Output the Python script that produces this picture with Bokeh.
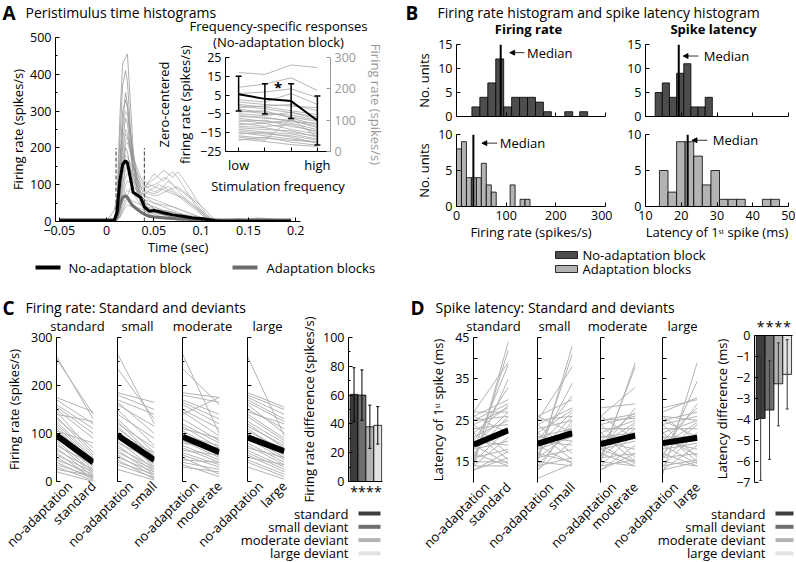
import math
from bokeh.plotting import figure
from bokeh.layouts import column
from bokeh.models import (ColumnDataSource, FixedTicker, Range1d, LinearAxis,
                          Whisker, TeeHead, Arrow, NormalHead)
from bokeh.core.properties import value
from bokeh.embed import file_html
from bokeh.resources import INLINE

FONT = "Open Sans"
TICK = "12.5px"
LAB = "13px"

# ---------------- DATA ----------------
# Panel A: PSTHs
psth_t = [-0.05, 0.0, 0.008, 0.011, 0.014, 0.017, 0.02, 0.022, 0.025, 0.028, 0.032, 0.036,
          0.04, 0.045, 0.05, 0.055, 0.06, 0.065, 0.07, 0.075, 0.08, 0.085, 0.09, 0.095,
          0.1, 0.105, 0.11, 0.115, 0.12, 0.14, 0.16, 0.195]
psth_units = [
    [5,4,6,50,280,430,445,455,330,200,110,60,35,25,20,15,12,10,8,8,6,5,5,4,4,3,3,3,3,4,3,4],
    [3,3,5,35,220,370,410,380,260,150,90,50,30,20,15,12,10,8,6,5,5,4,3,3,3,3,2,2,2,3,2,3],
    [2,2,4,25,160,300,330,310,220,160,100,70,60,45,35,25,20,15,12,10,8,6,5,4,3,3,2,2,2,2,2,2],
    [4,3,5,20,120,250,300,290,240,180,140,95,70,85,90,100,95,85,80,70,60,50,40,30,20,10,5,3,3,3,3,3],
    [1,1,3,15,100,220,280,270,200,130,90,60,40,30,25,20,18,15,12,10,8,6,5,4,3,2,2,2,2,2,2,2],
    [3,3,6,20,90,180,250,240,200,150,120,100,90,110,130,120,110,125,135,120,100,80,60,40,20,8,4,3,3,3,3,3],
    [2,2,4,10,60,150,220,230,200,170,150,120,100,90,80,85,95,110,100,90,80,70,60,50,30,15,5,3,2,2,2,2],
    [0,0,2,8,50,130,200,190,150,110,80,60,50,45,40,35,30,28,25,20,18,15,12,10,8,6,4,3,2,2,2,2],
    [3,3,5,12,60,120,180,175,160,140,130,120,110,100,95,90,85,80,75,70,65,55,45,35,25,12,5,3,3,3,3,3],
    [1,1,2,6,30,90,160,150,140,120,100,80,70,60,50,45,40,35,30,25,20,15,10,8,5,3,2,1,1,1,1,1],
    [2,2,3,8,40,100,140,150,145,130,115,100,90,95,100,105,120,115,100,85,70,60,50,40,30,20,10,5,3,2,8,2],
    [0,0,1,5,30,80,120,130,120,110,100,95,85,80,75,80,90,95,85,75,65,55,45,35,25,15,8,3,2,1,1,1],
    [2,2,3,6,25,60,100,110,105,95,85,80,70,65,60,55,50,45,40,35,30,25,20,15,10,6,3,2,2,2,2,2],
    [1,1,2,4,20,50,80,85,80,75,70,65,60,55,50,48,45,42,40,35,30,25,20,15,10,5,2,1,1,8,1,1],
    [3,3,3,5,15,40,60,65,60,55,50,45,40,38,35,32,30,28,25,22,20,18,15,12,10,8,5,3,3,3,10,3],
    [0,0,1,3,10,25,40,45,42,40,38,35,30,28,25,22,20,18,16,14,12,10,8,6,5,4,3,2,1,1,1,1],
    [2,2,2,4,12,30,50,70,90,80,60,45,35,30,28,26,24,22,20,18,16,14,12,10,8,6,4,2,2,2,2,2],
    [1,1,30,60,150,260,350,320,250,180,120,80,50,35,28,22,18,15,12,10,8,7,6,5,4,3,2,2,2,2,2,2],
    [4,4,5,20,110,200,240,230,190,150,130,110,95,105,115,125,140,130,120,135,120,100,80,60,40,20,8,4,4,4,4,4],
    [2,2,3,10,70,160,210,215,190,160,120,90,80,75,70,72,78,85,90,95,85,75,65,55,42,30,15,6,3,2,2,2],
]
psth_noadapt_mean = [2,2,2,25,110,155,165,160,120,80,72,65,40,28,30,27,24,21,18,16,14,12,10,9,8,6,4,2,1,1,1,1]
psth_adapt_mean = [5,5,5,12,45,65,70,66,52,42,34,26,20,14,12,11,10,9,8,7,6,6,5,5,5,4,4,4,4,4,4,4]
window_start, window_end, window_top = 0.01, 0.04, 200
psth_xticks = [-0.05, 0, 0.05, 0.1, 0.15, 0.2]
psth_xlabels = ["\u22120.05", "0", "0.05", "0.1", "0.15", "0.2"]
psth_yticks = [0, 100, 200, 300, 400, 500]

# Panel A inset: frequency-specific responses
inset_freq = [1, 2, 3, 4]
inset_freq_labels = ["low", "", "", "high"]
inset_units = [
    [252,246,276,268],[205,215,235,195],[185,190,200,172],[165,158,185,150],
    [158,150,145,140],[150,142,130,118],[146,136,124,104],[140,145,150,130],
    [135,125,110,96],[130,121,116,100],[126,130,106,86],[121,114,125,110],
    [116,106,100,80],[111,110,95,90],[106,96,90,70],[101,90,100,76],
    [96,100,80,66],[91,80,86,60],[86,90,70,56],[81,76,60,50],[76,70,66,46],
    [71,62,56,40],[66,56,50,36],[61,50,40,30],[56,60,46,26],[50,42,36,30],
    [46,36,105,46],[40,32,22,16],[36,46,30,20]]
inset_mean = [5.5, 3.0, 1.8, -8.5]
inset_lo = [-3.5, -5.0, -7.5, -21.5]
inset_hi = [15.0, 11.0, 11.0, 4.5]
inset_yticks = [-25, -15, -5, 5, 15, 25]
inset_ylabels = ["\u221225", "\u221215", "\u22125", "5", "15", "25"]
inset_rticks = [0, 100, 200, 300]
inset_sig_x, inset_sig_y = 2.5, 9.5

# Panel B: histograms
fr_noadapt_left = [31, 47, 63, 79, 95, 111, 127, 143, 159, 175, 218, 248]
fr_noadapt_count = [2, 4, 7, 12, 2, 4, 4, 4, 3, 1, 1, 1]
fr_noadapt_width = 16
fr_noadapt_median = 89
fr_adapt_left = [0, 10, 20, 30, 40, 50, 60, 70, 108, 128, 138]
fr_adapt_count = [8, 9, 4, 4, 4, 6, 3, 2, 3, 1, 1]
fr_adapt_width = 10
fr_adapt_median = 34
lat_noadapt_left = [12.7, 14.7, 16.7, 18.7, 20.7, 22.7, 24.7, 26.7]
lat_noadapt_count = [5, 7, 4, 9, 11, 2, 2, 4]
lat_noadapt_width = 2.0
lat_noadapt_median = 19.3
lat_adapt_left = [13.9, 16.3, 18.7, 21.1, 23.5, 25.9, 28.3, 30.7, 33.1, 35.5, 42.7, 45.1]
lat_adapt_count = [5, 2, 9, 9, 7, 3, 5, 1, 1, 1, 1, 1]
lat_adapt_width = 2.4
lat_adapt_median = 21.8

# Panel C: firing rate, no-adaptation vs. condition
conditions = ["standard", "small", "moderate", "large"]
legend_names = ["standard", "small deviant", "moderate deviant", "large deviant"]
bar_colors = ["#3d3d3d", "#6e6e6e", "#b3b3b3", "#e3e3e3"]
fr_noadapt = {
    "standard": [260,255,175,170,160,155,150,145,140,135,130,125,120,115,110,105,100,95,90,85,80,75,70,65,60,55,50,45,40,35,30,25,20],
    "small":    [265,235,185,180,170,165,160,150,140,130,125,120,115,110,105,100,95,90,85,80,75,70,65,60,55,50,45,40,35,25],
    "moderate": [265,235,185,180,170,165,160,150,145,140,130,120,115,110,105,100,95,90,85,80,75,70,65,60,55,50,45,40,35,30],
    "large":    [260,185,180,175,170,165,160,150,145,140,135,125,120,115,110,105,100,95,90,85,80,75,70,65,60,55,50,45,40,30],
}
fr_cond = {
    "standard": [130,140,145,120,110,100,90,60,125,55,70,50,45,40,35,80,30,25,45,20,15,35,10,25,5,20,8,15,5,10,2,12,0],
    "small":    [120,130,165,150,140,100,115,75,90,60,50,70,45,55,40,30,60,35,25,45,20,30,15,25,10,20,5,15,8,3],
    "moderate": [100,160,175,165,140,130,120,110,95,175,85,80,70,90,65,60,75,55,50,70,45,40,55,35,30,15,40,25,10,20],
    "large":    [95,155,150,140,130,125,100,110,120,90,85,80,70,75,60,65,55,50,45,60,40,35,50,30,25,20,35,15,10,5],
}
fr_mean_pairs = {"standard": (96, 40), "small": (96, 45), "moderate": (93, 61), "large": (92, 63)}
fr_diff_mean = [60.5, 60.0, 38.0, 39.0]
fr_diff_lo = [41.5, 42.5, 23.0, 26.0]
fr_diff_hi = [79.0, 77.5, 53.0, 52.0]

# Panel D: spike latency, no-adaptation vs. condition
lat_noadapt = {
    "standard": [14,15,27,18,16,20,26,25,22,24,19,17,21,23,15,26,14,18,20,16,24,13,22,15,19,14,17,25,27,13],
    "small":    [15,16,25,18,20,26,24,22,19,17,23,14,21,26,18,13,20,16,24,14,22,11,19,15,17,25,13,21,16,19],
    "moderate": [15,16,26,28,18,20,25,24,22,19,17,23,14,21,26,18,13,20,16,24,14,22,19,15,17,25,13,21,16,18],
    "large":    [12,16,27,28,18,20,25,24,22,19,17,23,14,21,26,18,13,20,16,24,14,22,19,15,17,25,13,21,16,26],
}
lat_cond = {
    "standard": [44,42,39,38.5,35,33,30,29,28.5,28,27,26,25,24,23,22,21,20,19,18,17,16,15.5,15,14.5,14,14,26,27,17.5],
    "small":    [43,41,38,34,31,30,28,27.5,27,26,25,24,23,22,21,20,19,18,17,16,15.5,14.5,14.5,14,15,26,25,20,22,23],
    "moderate": [39,38,33,29,28,27,26.5,26,25,24.5,24,23,22,21,20.5,20,19,18,17,16,15.5,15,14.5,14,14,25.5,17,22,23,15],
    "large":    [39,34.5,30.5,30,29,28,27,26,25,24.5,24,23,22,21,20,19.5,19,18,17,16,15.5,15,14.5,14,14,21,15,16.5,22,25],
}
lat_mean_pairs = {"standard": (19.1, 22.6), "small": (19.4, 21.9), "moderate": (19.3, 21.3), "large": (19.5, 20.8)}
lat_diff_mean = [-3.95, -3.55, -2.3, -1.85]
lat_diff_lo = [-6.9, -5.9, -4.3, -3.5]
lat_diff_hi = [-1.0, -1.2, -0.35, -0.2]
sig_marks = ["*", "*", "*", "*"]

# ---------------- HELPERS ----------------
PAGE_W, PAGE_H = 796, 562
OFF_X, OFF_Y = 0, 0   # where the positioning container sits in the window


def place(p, left, top):
    # absolute position in window pixels
    p.styles = {"position": "absolute", "left": "%dpx" % (left - OFF_X),
                "top": "%dpx" % (top - OFF_Y)}


def make_fig(fl, ft, fw, fh, xr, yr, bl=40, br=10, bt=10, bb=40, **kw):
    W = fw + bl + br
    H = fh + bt + bb
    p = figure(width=W, height=H, x_range=Range1d(*xr), y_range=Range1d(*yr),
               output_backend="svg", toolbar_location=None,
               min_border_left=bl, min_border_right=br, min_border_top=bt,
               min_border_bottom=bb, **kw)
    p.frame_align = False
    p.background_fill_color = None
    p.border_fill_color = None
    p.outline_line_color = None
    p.xgrid.visible = False
    p.ygrid.visible = False
    place(p, fl - bl, ft - bt)
    return p


def style_axis(ax, color="black"):
    ax.axis_line_color = color
    ax.axis_line_width = 1
    ax.major_tick_in = 4
    ax.major_tick_out = 0
    ax.minor_tick_in = 2
    ax.minor_tick_out = 0
    ax.major_tick_line_color = color
    ax.minor_tick_line_color = color
    ax.major_label_text_font = FONT
    ax.major_label_text_font_size = TICK
    ax.major_label_text_color = color
    ax.axis_label_text_font = FONT
    ax.axis_label_text_font_size = LAB
    ax.axis_label_text_font_style = "normal"
    ax.axis_label_text_color = color
    ax.major_label_standoff = 4
    ax.axis_label_standoff = 2


def style_all(p):
    for ax in list(p.xaxis) + list(p.yaxis):
        style_axis(ax)


figs = []

# overlay for titles / legends (whole window, drawn underneath)
ov = figure(width=PAGE_W, height=PAGE_H, x_range=Range1d(0, PAGE_W), y_range=Range1d(0, PAGE_H),
            output_backend="svg", toolbar_location=None, min_border=0,
            x_axis_type=None, y_axis_type=None)
ov.frame_align = False
ov.background_fill_color = None
ov.border_fill_color = None
ov.outline_line_color = None
ov.xgrid.visible = False
ov.ygrid.visible = False
place(ov, 0, 0)
figs.append(ov)


def txt(x, y, s, size=LAB, style="normal", align="left", color="black", angle=0.0):
    ov.text(x=[x], y=[PAGE_H - y], text=[s], text_font=value(FONT), text_font_size=size,
            text_font_style=style, text_align=align, text_baseline="middle",
            text_color=color, angle=angle)


def hseg(x0, x1, y, color, width):
    ov.segment(x0=[x0], y0=[PAGE_H - y], x1=[x1], y1=[PAGE_H - y], line_color=color,
               line_width=width)


# ---------------- PANEL A ----------------
pA = make_fig(52, 37, 248, 184, (-0.054, 0.205), (0, 500), bl=46, br=4, bt=6, bb=40)
dark_units = {0, 1, 2, 4, 7, 17}
pA.multi_line(xs=[psth_t for i in range(len(psth_units)) if i not in dark_units],
              ys=[u for i, u in enumerate(psth_units) if i not in dark_units],
              line_color="#a8a8a8", line_width=0.7)
pA.multi_line(xs=[psth_t for i in range(len(psth_units)) if i in dark_units],
              ys=[u for i, u in enumerate(psth_units) if i in dark_units],
              line_color="#8a8a8a", line_width=0.7)
pA.segment(x0=[window_start, window_end], y0=[0, 0], x1=[window_start, window_end],
           y1=[window_top, window_top], line_color="#555555", line_width=1.2, line_dash="4 2")
pA.line(psth_t, psth_adapt_mean, line_color="#6e6e6e", line_width=3)
pA.line(psth_t, psth_noadapt_mean, line_color="black", line_width=3)
style_all(pA)
pA.xaxis.ticker = FixedTicker(ticks=psth_xticks)
pA.xaxis.major_label_overrides = dict(zip(psth_xticks, psth_xlabels))
pA.yaxis.ticker = FixedTicker(ticks=psth_yticks, minor_ticks=[50, 150, 250, 350, 450])
pA.xaxis.axis_label = "Time (sec)"
pA.yaxis.axis_label = "Firing rate (spikes/s)"
pA.xaxis.axis_label_standoff = 0
pA.yaxis.axis_label_standoff = 0
figs.append(pA)

# inset
pI = make_fig(225, 57, 106, 94, (0.5, 4.5), (-25, 25), bl=30, br=56, bt=40, bb=50)
pI.extra_y_ranges = {"fr": Range1d(0, 300)}
pI.multi_line(xs=[inset_freq] * len(inset_units), ys=inset_units, y_range_name="fr",
              line_color="#a6a6a6", line_width=0.8)
src_in = ColumnDataSource(dict(x=inset_freq, m=inset_mean, lo=inset_lo, hi=inset_hi))
pI.line("x", "m", source=src_in, line_color="black", line_width=2)
pI.add_layout(Whisker(base="x", lower="lo", upper="hi", source=src_in, level="annotation",
                      line_color="black", line_width=1.5,
                      upper_head=TeeHead(size=6, line_width=1.5, line_color="black"),
                      lower_head=TeeHead(size=6, line_width=1.5, line_color="black")))
pI.text(x=[inset_sig_x], y=[inset_sig_y], text=["*"], text_font=value(FONT),
        text_font_size="15px", text_font_style="bold", text_align="center",
        text_baseline="middle")
rax = LinearAxis(y_range_name="fr")
pI.add_layout(rax, "right")
style_all(pI)
style_axis(rax, color="#9a9a9a")
pI.yaxis[0].ticker = FixedTicker(ticks=inset_yticks)
pI.yaxis[0].major_label_overrides = dict(zip(inset_yticks, inset_ylabels))
rax.ticker = FixedTicker(ticks=inset_rticks)
rax.axis_label = "Firing rate (spikes/s)"
rax.axis_label_standoff = 8
pI.xaxis.ticker = FixedTicker(ticks=inset_freq)
pI.xaxis.major_label_overrides = dict(zip(inset_freq, inset_freq_labels))
pI.xaxis.major_label_text_font_size = LAB
pI.xaxis.axis_label = "Stimulation frequency"
pI.xaxis.axis_label_standoff = 0
figs.append(pI)


# ---------------- PANEL B ----------------
def hist_panel(fl, ft, fw, fh, xr, yr, lefts, counts, width, median, color, xticks, yticks,
               show_x, xlabel, ylabel, arrow_tail, arrow_tip, arrow_y, text_x):
    p = make_fig(fl, ft, fw, fh, xr, yr, bl=40, br=7, bt=6, bb=40)
    src = ColumnDataSource(dict(left=lefts, right=[l + width for l in lefts], top=counts))
    p.quad(left="left", right="right", top="top", bottom=0, source=src, fill_color=color,
           line_color="black", line_width=0.8)
    p.segment(x0=[median], y0=[yr[0]], x1=[median], y1=[yr[1]], line_color="black",
              line_width=2)
    p.add_layout(Arrow(end=NormalHead(size=5, fill_color="black", line_color="black",
                                      line_width=0.8),
                       x_start=arrow_tail, y_start=arrow_y, x_end=arrow_tip, y_end=arrow_y,
                       line_width=0.8, line_color="black"))
    p.text(x=[text_x], y=[arrow_y], text=["Median"], text_font=value(FONT),
           text_font_size=LAB, text_baseline="middle", text_align="left")
    style_all(p)
    p.xaxis.ticker = FixedTicker(ticks=xticks)
    if not show_x:
        p.xaxis.major_label_overrides = {t: "" for t in xticks}
    else:
        p.xaxis.axis_label = xlabel
        p.xaxis.axis_label_standoff = 0
    p.yaxis.ticker = FixedTicker(ticks=yticks)
    if ylabel:
        p.yaxis.axis_label = ylabel
    p.yaxis.axis_label_standoff = 2
    return p


DARK, LIGHT = "#4d4d4d", "#b3b3b3"
figs.append(hist_panel(452, 44, 153, 72, (0, 300), (0, 15), fr_noadapt_left, fr_noadapt_count,
                       fr_noadapt_width, fr_noadapt_median, DARK, [0, 100, 200, 300],
                       [0, 5, 10, 15], False, None, "No. units", fr_noadapt_median + 48,
                       fr_noadapt_median + 18, 13.3, fr_noadapt_median + 53))
figs.append(hist_panel(452, 134, 153, 72, (0, 300), (0, 10), fr_adapt_left, fr_adapt_count,
                       fr_adapt_width, fr_adapt_median, LIGHT, [0, 100, 200, 300],
                       [0, 5, 10], True, "Firing rate (spikes/s)", "No. units",
                       fr_adapt_median + 48, fr_adapt_median + 17, 8.8, fr_adapt_median + 53))
figs.append(hist_panel(645, 44, 143, 72, (10, 50), (0, 15), lat_noadapt_left,
                       lat_noadapt_count, lat_noadapt_width, lat_noadapt_median, DARK,
                       [10, 20, 30, 40, 50], [0, 5, 10, 15], False, None, None,
                       lat_noadapt_median + 5.5, lat_noadapt_median + 1.2, 12.6,
                       lat_noadapt_median + 7.0))
figs.append(hist_panel(645, 134, 143, 72, (10, 50), (0, 10), lat_adapt_left, lat_adapt_count,
                       lat_adapt_width, lat_adapt_median, LIGHT, [10, 20, 30, 40, 50],
                       [0, 5, 10], True, "Latency of 1\u02e2\u1d57 spike (ms)", None,
                       lat_adapt_median + 5.5, lat_adapt_median + 1.2, 9.2,
                       lat_adapt_median + 7.0))


# ---------------- PANELS C & D: paired lines ----------------
def paired_panel(fl, ft, fw, fh, yr, left_vals, right_vals, mean_pair, cond, yticks, ylabmap,
                 minor, ylabel=None):
    p = make_fig(fl, ft, fw, fh, (0.995, 2.005), yr, bl=54, br=10, bt=6, bb=80)
    p.multi_line(xs=[[1, 2]] * len(left_vals),
                 ys=[[a, b] for a, b in zip(left_vals, right_vals)],
                 line_color="#b3b3b3", line_width=1)
    p.line(x=[1, 2], y=list(mean_pair), line_color="black", line_width=6)
    style_all(p)
    p.yaxis.ticker = FixedTicker(ticks=yticks, minor_ticks=minor)
    p.yaxis.major_label_overrides = ylabmap
    if ylabel:
        p.yaxis.axis_label = ylabel
        p.yaxis.axis_label_standoff = 5
    xa = p.xaxis[0]
    xa.ticker = FixedTicker(ticks=[1, 2])
    xa.major_label_overrides = {1: "no-adaptation", 2: cond}
    xa.major_label_orientation = math.pi / 4
    xa.axis_line_color = None
    xa.major_tick_line_color = None
    xa.minor_tick_line_color = None
    xa.major_label_text_font_size = LAB
    xa.major_label_standoff = 2
    return p


c_lefts = [56, 117, 182, 247]
for i, cond in enumerate(conditions):
    labmap = {t: (str(t) if i == 0 else "") for t in [0, 100, 200, 300]}
    figs.append(paired_panel(c_lefts[i], 337, 37, 144, (0, 300), fr_noadapt[cond],
                             fr_cond[cond], fr_mean_pairs[cond], cond, [0, 100, 200, 300],
                             labmap, [50, 150, 250],
                             "Firing rate (spikes/s)" if i == 0 else None))

d_lefts = [473, 537, 600, 662]
d_ticks = [15, 20, 25, 30, 35, 40, 45]
for i, cond in enumerate(conditions):
    labmap = {t: (str(t) if (i == 0 and t in (15, 25, 35, 45)) else "") for t in d_ticks}
    figs.append(paired_panel(d_lefts[i], 337, 35, 145, (10, 45), lat_noadapt[cond],
                             lat_cond[cond], lat_mean_pairs[cond], cond, d_ticks, labmap, [],
                             "Latency of 1\u02e2\u1d57 spike (ms)" if i == 0 else None))


# ---------------- difference bars ----------------
def diff_bars(fl, ft, fw, fh, yr, means, lo, hi, yticks, ylabmap, minor, ylabel, side,
              wcolor):
    p = make_fig(fl, ft, fw, fh, (0.3, 4.6), yr, bl=50, br=4 if side == "above" else 10,
                 bt=22, bb=22, x_axis_location=side)
    src = ColumnDataSource(dict(x=[1, 2, 3, 4], top=means, lo=lo, hi=hi, color=bar_colors))
    p.vbar(x="x", top="top", bottom=0, width=1, fill_color="color", line_color="black",
           line_width=0.8, source=src)
    p.add_layout(Whisker(base="x", lower="lo", upper="hi", source=src, level="annotation",
                         line_color=wcolor, line_width=1,
                         upper_head=TeeHead(size=3, line_width=1, line_color=wcolor),
                         lower_head=TeeHead(size=3, line_width=1, line_color=wcolor)))
    style_all(p)
    p.yaxis.ticker = FixedTicker(ticks=yticks, minor_ticks=minor)
    p.yaxis.major_label_overrides = ylabmap
    p.yaxis.axis_label = ylabel
    p.yaxis.axis_label_standoff = 2
    xa = p.xaxis[0]
    xa.ticker = FixedTicker(ticks=[1, 2, 3, 4])
    xa.major_label_overrides = dict(zip([1, 2, 3, 4], sig_marks))
    xa.major_tick_line_color = None
    xa.major_label_text_font_size = "14px"
    xa.major_label_standoff = 0
    return p


figs.append(diff_bars(347, 337, 35, 144, (0, 100), fr_diff_mean, fr_diff_lo, fr_diff_hi,
                      [0, 20, 40, 60, 80, 100], {t: str(t) for t in [0, 20, 40, 60, 80, 100]},
                      [10, 30, 50, 70, 90], "Firing rate difference (spikes/s)", "below",
                      "black"))
d_bar_ticks = [-7, -6, -5, -4, -3, -2, -1, 0]
figs.append(diff_bars(754, 335, 38, 147, (-7, 0), lat_diff_mean, lat_diff_lo, lat_diff_hi,
                      d_bar_ticks, {t: ("\u2212%d" % -t if t < 0 else "0") for t in d_bar_ticks},
                      [], "Latency difference (ms)", "above", "#333333"))

# ---------------- overlay texts ----------------
txt(2, 12, "A", size="19px", style="bold")
txt(25, 12, "Peristimulus time histograms", size="14px")
txt(278, 25, "Frequency-specific responses", align="center")
txt(278, 41, "(No-adaptation block)", align="center")
txt(174, 104, "Zero-centered\nfiring rate (spikes/s)", align="center", angle=math.pi / 2)
hseg(35, 60, 267, "black", 4)
txt(68, 267, "No-adaptation block")
hseg(232, 257, 267, "#6e6e6e", 4)
txt(266, 267, "Adaptation blocks")

txt(405, 12, "B", size="19px", style="bold")
txt(437, 12, "Firing rate histogram and spike latency histogram", size="14px")
txt(528, 28, "Firing rate", style="bold", align="center")
txt(713, 28, "Spike latency", style="bold", align="center")
ov.quad(left=[555, 555], right=[577, 577], bottom=[PAGE_H - 258, PAGE_H - 272],
        top=[PAGE_H - 251, PAGE_H - 265], fill_color=[DARK, LIGHT], line_color="black",
        line_width=0.8)
txt(582, 254, "No-adaptation block")
txt(582, 268, "Adaptation blocks")

txt(2, 307, "C", size="19px", style="bold")
txt(25, 307, "Firing rate: Standard and deviants", size="14px")
for x, s in zip([77, 137, 202, 267], conditions):
    txt(x, 325, s, align="center")
txt(410, 307, "D", size="19px", style="bold")
txt(435, 307, "Spike latency: Standard and deviants", size="14px")
for x, s in zip([493, 554, 617, 682], conditions):
    txt(x, 325, s, align="center")
for k, (name, col) in enumerate(zip(legend_names, bar_colors)):
    y = 513 + 13.3 * k
    txt(348, y, name, align="right")
    hseg(358, 380, y, col, 4)
    txt(765, y, name, align="right")
    hseg(775, 793, y, col, 4)

layout = column(*figs, width=PAGE_W, height=PAGE_H, sizing_mode="fixed")
open("out.html", "w").write(file_html(layout, INLINE))
